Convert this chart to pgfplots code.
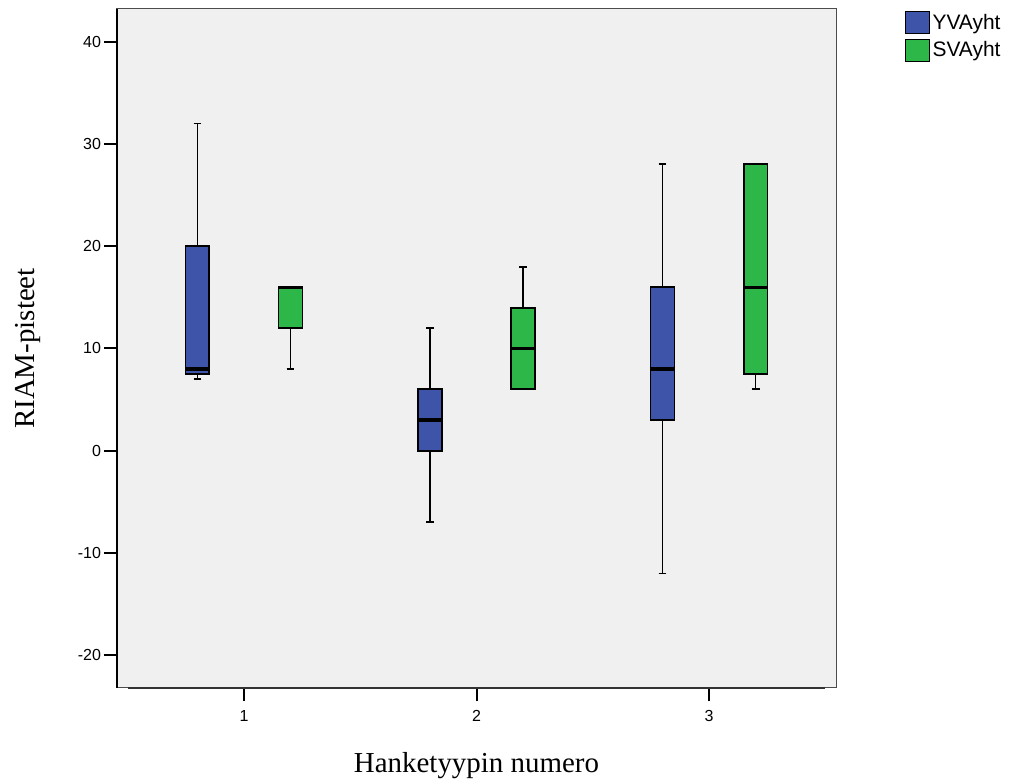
\documentclass[border=0pt]{standalone}
\usepackage{fontspec}
\setmainfont{Liberation Serif}
\newfontfamily\arial{Liberation Sans}
\usepackage{pgfplots}
\usepgfplotslibrary{statistics}
\pgfplotsset{compat=1.18}
\definecolor{yvblue}{RGB}{62,84,168}
\definecolor{svgreen}{RGB}{46,183,73}
\definecolor{bgray}{RGB}{240,240,240}
\begin{document}
\begin{tikzpicture}
\begin{axis}[
  name=ax,
  scale only axis,
  width=539.25pt, height=509.25pt,
  xmin=0.454, xmax=3.546,
  ymin=-23.2, ymax=43.2,
  axis background/.style={fill=bgray},
  axis line style={draw=black!70, line width=0.75pt},
  clip=false,
  xtick={1,2,3}, xticklabels={1,2,3},
  ytick={-20,-10,0,10,20,30,40},
  yticklabels={-20,-10,0,10,20,30,40},
  xtick pos=bottom, ytick pos=left,
  tick align=outside,
  major tick length=9.5pt,
  tick style={black, line width=1.5pt},
  tick label style={font=\arial\fontsize{12}{14}\selectfont},
  yticklabel style={xshift=1pt},
  xticklabel style={yshift=-4pt},
  xlabel={Hanketyypin numero},
  ylabel={RIAM-pisteet},
  label style={font=\fontsize{21.7}{26}\selectfont},
  xlabel style={at={(axis description cs:0.5,0)}, anchor=base, yshift=-63.75pt},
  ylabel style={at={(axis description cs:-0.124,0.5)}, anchor=center},
  boxplot/draw direction=y,
  boxplot/box extend=0.103,
  boxplot/whisker extend=0.034,
  legend style={at={(1,1)}, anchor=north west, xshift=51.5pt, yshift=-1.5pt,
    draw=none, fill=none, inner sep=0pt, row sep=4pt,
    font=\arial\fontsize{15.7}{18}\selectfont},
  legend cell align=left,
  legend image code/.code={\draw[#1, draw=black, line width=0.75pt] (0pt,-8pt) rectangle (18pt,8pt);},
]
\draw[black, line width=1.5pt] (rel axis cs:0,0) -- (rel axis cs:0,1);
\draw[black!80, line width=1.5pt] (rel axis cs:0.015,0) -- (rel axis cs:0.985,0);
% Group 1
\addplot[forget plot, fill=yvblue, draw=black, line width=1.4pt, boxplot/every median/.style={line width=2.4pt},
  boxplot prepared={draw position=0.8, lower whisker=7, lower quartile=7.5, median=8, upper quartile=20, upper whisker=32}] coordinates {};
\addplot[forget plot, fill=svgreen, draw=black, line width=1.4pt, boxplot/every median/.style={line width=2.4pt},
  boxplot prepared={draw position=1.2, lower whisker=8, lower quartile=12, median=16, upper quartile=16, upper whisker=16}] coordinates {};
% Group 2
\addplot[forget plot, fill=yvblue, draw=black, line width=1.4pt, boxplot/every median/.style={line width=2.4pt},
  boxplot prepared={draw position=1.8, lower whisker=-7, lower quartile=0, median=3, upper quartile=6, upper whisker=12}] coordinates {};
\addplot[forget plot, fill=svgreen, draw=black, line width=1.4pt, boxplot/every median/.style={line width=2.4pt},
  boxplot prepared={draw position=2.2, lower whisker=6, lower quartile=6, median=10, upper quartile=14, upper whisker=18}] coordinates {};
% Group 3
\addplot[forget plot, fill=yvblue, draw=black, line width=1.4pt, boxplot/every median/.style={line width=2.4pt},
  boxplot prepared={draw position=2.8, lower whisker=-12, lower quartile=3, median=8, upper quartile=16, upper whisker=28}] coordinates {};
\addplot[forget plot, fill=svgreen, draw=black, line width=1.4pt, boxplot/every median/.style={line width=2.4pt},
  boxplot prepared={draw position=3.2, lower whisker=6, lower quartile=7.5, median=16, upper quartile=28, upper whisker=28}] coordinates {};
\addlegendimage{fill=yvblue}
\addlegendentry{YVAyht}
\addlegendimage{fill=svgreen}
\addlegendentry{SVAyht}
\end{axis}
\pgfresetboundingbox
\path[use as bounding box] ([shift={(-87.75pt,-69pt)}]ax.south west) rectangle ([shift={(133.5pt,6.75pt)}]ax.north east);
\end{tikzpicture}
\end{document}
